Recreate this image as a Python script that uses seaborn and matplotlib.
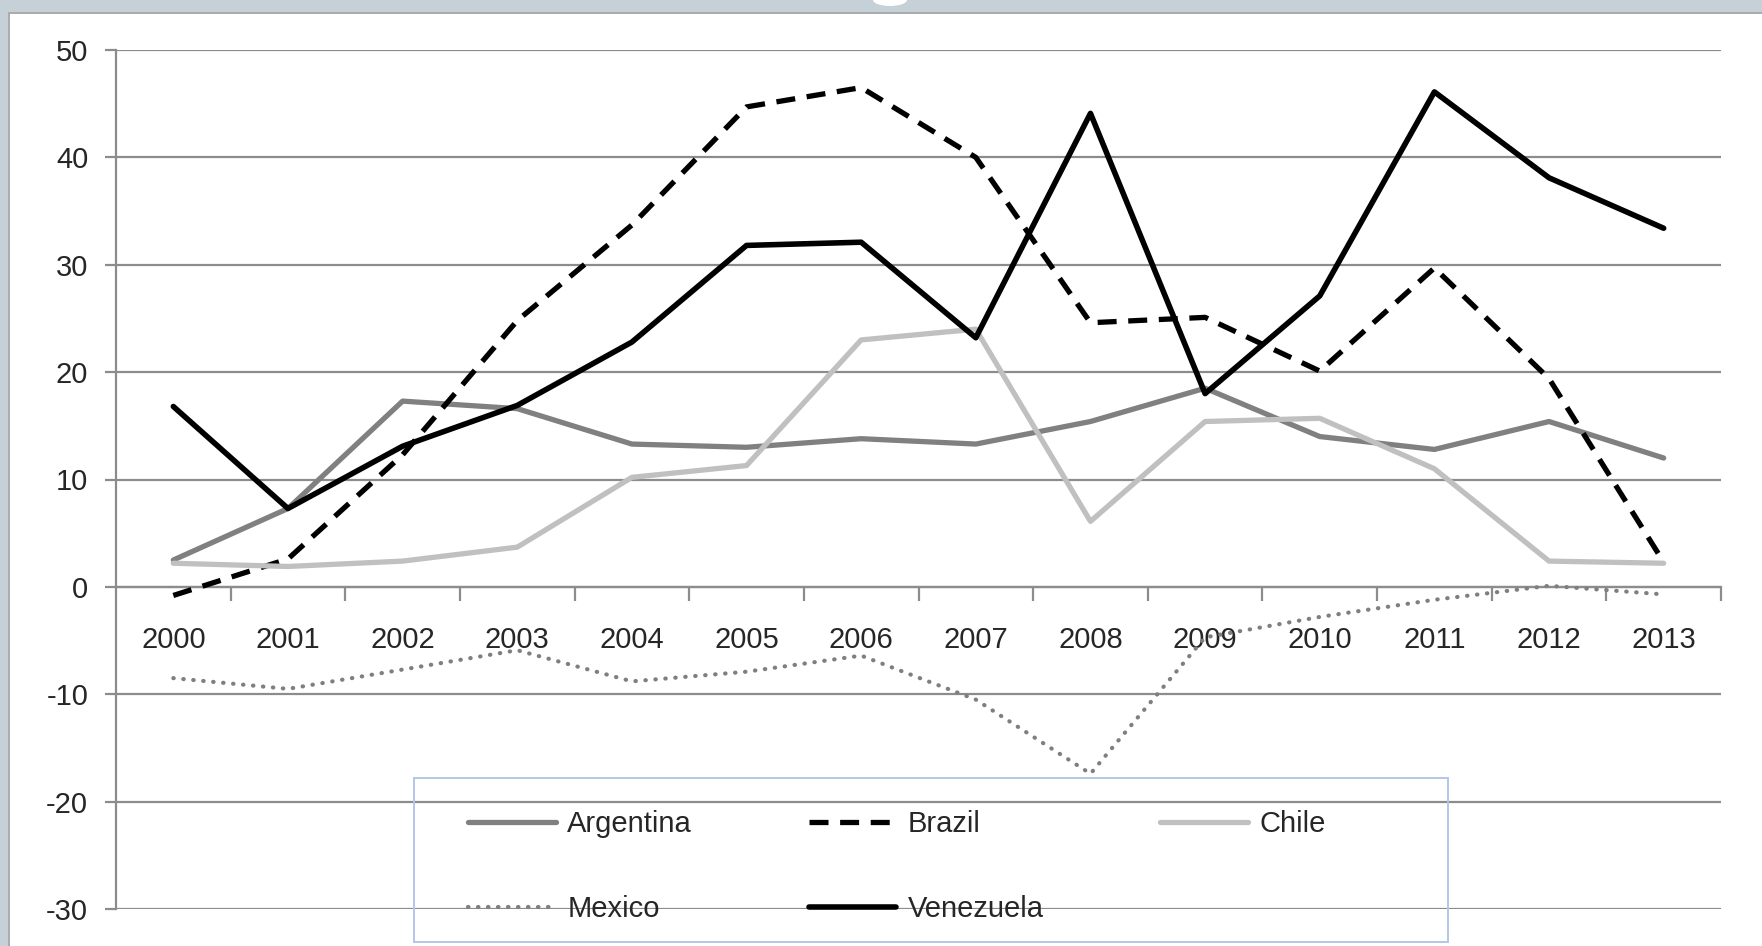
import matplotlib
matplotlib.use("Agg")
import matplotlib.pyplot as plt
import matplotlib.patches as mpatches
from matplotlib.ticker import FixedLocator, FuncFormatter
import seaborn as sns
import pandas as pd

years = ["2000", "2001", "2002", "2003", "2004", "2005", "2006",
         "2007", "2008", "2009", "2010", "2011", "2012", "2013"]

argentina = [2.5, 7.3, 17.3, 16.6, 13.3, 13.0, 13.8, 13.3, 15.4, 18.5, 14.0, 12.8, 15.4, 12.0]
brazil = [-0.8, 2.6, 12.3, 24.8, 33.7, 44.7, 46.5, 40.0, 24.6, 25.1, 20.1, 29.7, 19.4, 2.3]
chile = [2.2, 1.9, 2.4, 3.7, 10.2, 11.3, 23.0, 24.0, 6.1, 15.4, 15.7, 11.0, 2.4, 2.2]
mexico = [-8.5, -9.5, -7.7, -5.9, -8.8, -7.9, -6.4, -10.5, -17.4, -4.7, -2.8, -1.2, 0.1, -0.7]
venezuela = [16.8, 7.3, 13.1, 16.9, 22.8, 31.8, 32.1, 23.2, 44.1, 18.0, 27.1, 46.1, 38.1, 33.4]

y_ticks = [-30, -20, -10, 0, 10, 20, 30, 40, 50]

sns.set_theme(style="white")
plt.rcParams["font.family"] = ["Liberation Sans", "DejaVu Sans"]

W, H = 1762, 946
fig = plt.figure(figsize=(W / 100, H / 100), dpi=100)
fig.patch.set_facecolor("white")

# window-style frame on the top and left edges
frame_col = "#c5d0d7"
fig.patches.append(mpatches.Rectangle((0, 1 - 12 / H), 1, 12 / H, transform=fig.transFigure,
                                      facecolor=frame_col, edgecolor="none", zorder=0))
fig.patches.append(mpatches.Rectangle((0, 1 - 14 / H), 1, 2 / H, transform=fig.transFigure,
                                      facecolor="#a9adb0", edgecolor="none", zorder=0))
fig.patches.append(mpatches.Rectangle((0, 0), 8 / W, 1, transform=fig.transFigure,
                                      facecolor=frame_col, edgecolor="none", zorder=0))
fig.patches.append(mpatches.Rectangle((8 / W, 0), 2 / W, 1 - 12 / H, transform=fig.transFigure,
                                      facecolor="#a9adb0", edgecolor="none", zorder=0))
fig.patches.append(mpatches.Ellipse((890 / W, 1.0), 34 / W, 12 / H, transform=fig.transFigure,
                                    facecolor="white", edgecolor="none", zorder=1))

ax = fig.add_axes([116 / W, 1 - 909 / H, (1721 - 116) / W, (909 - 50) / H])
ax.set_facecolor("none")

grid_col = "#8c8c8c"
x = list(range(len(years)))

series = [
    ("Argentina", argentina, dict(color="#808080", linewidth=3.8, linestyle="-",
                                  solid_joinstyle="round", solid_capstyle="round")),
    ("Brazil", brazil, dict(color="black", linewidth=3.8, linestyle=(0, (3.6, 2.2)),
                            dash_joinstyle="round", dash_capstyle="butt")),
    ("Chile", chile, dict(color="#c0c0c0", linewidth=3.8, linestyle="-",
                          solid_joinstyle="round", solid_capstyle="round")),
    ("Mexico", mexico, dict(color="#7f7f7f", linewidth=3.0, linestyle=(0, (0.1, 2.3)),
                            dash_capstyle="round")),
    ("Venezuela", venezuela, dict(color="black", linewidth=4.0, linestyle="-",
                                  solid_joinstyle="round", solid_capstyle="round")),
]

for name, vals, kw in series:
    df = pd.DataFrame({"x": x, "y": vals})
    sns.lineplot(data=df, x="x", y="y", ax=ax, label=name, zorder=3, **kw)

ax.set_xlim(-0.5, len(years) - 0.5)
ax.set_ylim(-30, 50)

# horizontal grid
ax.yaxis.set_major_locator(FixedLocator(y_ticks))
ax.yaxis.set_major_formatter(FuncFormatter(lambda v, p: f"{int(v)}"))
ax.grid(axis="y", color=grid_col, linewidth=1.6)
ax.grid(axis="x", visible=False)
ax.set_axisbelow(True)

for side in ["top", "right"]:
    ax.spines[side].set_visible(False)
ax.spines["left"].set_color(grid_col)
ax.spines["left"].set_linewidth(1.6)
ax.spines["bottom"].set_position(("data", 0))
ax.spines["bottom"].set_color(grid_col)
ax.spines["bottom"].set_linewidth(1.6)

ax.tick_params(axis="y", direction="out", length=8, width=1.6, color=grid_col,
               pad=12, labelsize=21, labelcolor="#262626", left=True)

# category boundaries as ticks, year labels as minor ticks between them
ax.xaxis.set_major_locator(FixedLocator([i + 0.5 for i in x]))
ax.xaxis.set_major_formatter(FuncFormatter(lambda v, p: ""))
ax.xaxis.set_minor_locator(FixedLocator(x))
ax.set_xticklabels(years, minor=True)
ax.tick_params(axis="x", which="major", direction="out", length=10, width=1.6,
               color=grid_col, bottom=True)
ax.tick_params(axis="x", which="minor", length=0, pad=28, labelsize=21,
               labelcolor="#262626", bottom=True)
ax.set_xlabel("")
ax.set_ylabel("")

# legend box outline
fig.patches.append(mpatches.Rectangle((414 / W, 1 - 942 / H), (1448 - 414) / W, (942 - 778) / H,
                                      transform=fig.transFigure, facecolor="none",
                                      edgecolor="#b4c6e7", linewidth=1.4, zorder=5))

# legend filled row by row: Argentina, Brazil, Chile / Mexico, Venezuela
handles, labels = ax.get_legend_handles_labels()
lookup = dict(zip(labels, handles))
order = ["Argentina", "Mexico", "Brazil", "Venezuela", "Chile"]
leg = ax.legend([lookup[n] for n in order], order, ncol=3, frameon=False, fontsize=21,
                loc="upper left", bbox_to_anchor=(468 / W, 1 - 810 / H),
                bbox_transform=fig.transFigure, borderpad=0, borderaxespad=0,
                handlelength=3.0, handletextpad=0.4, columnspacing=4.0,
                labelspacing=1.95)
for t in leg.get_texts():
    t.set_color("#262626")

fig.savefig("out.png", dpi=100, facecolor=fig.get_facecolor())
